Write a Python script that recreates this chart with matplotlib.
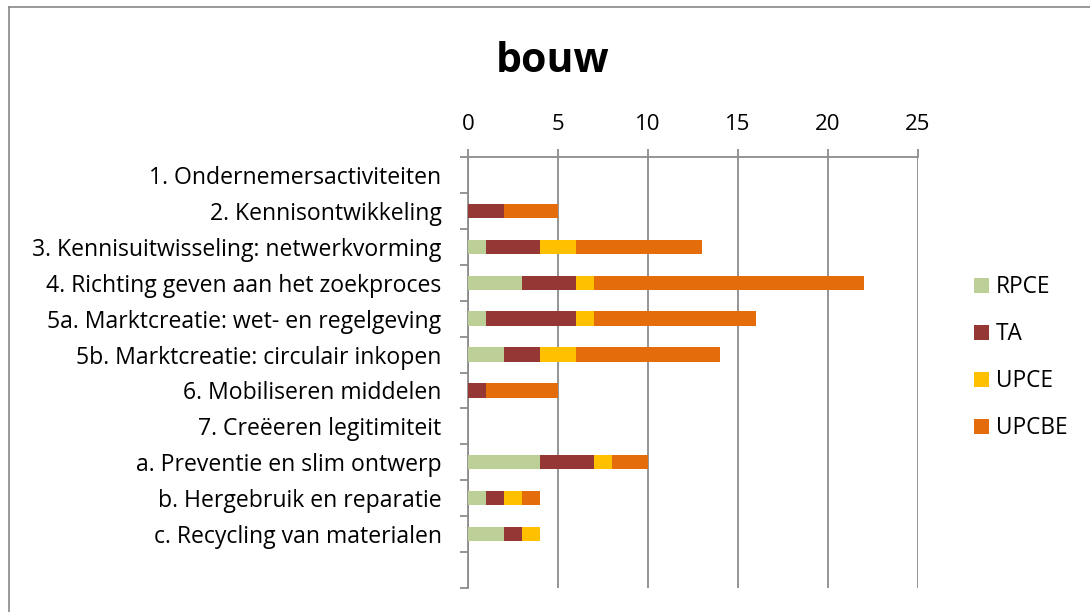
import matplotlib
matplotlib.use("Agg")
import matplotlib.pyplot as plt
import numpy as np
from matplotlib.patches import Rectangle
from matplotlib.lines import Line2D

title = "bouw"
categories = [
    "1. Ondernemersactiviteiten",
    "2. Kennisontwikkeling",
    "3. Kennisuitwisseling: netwerkvorming",
    "4. Richting geven aan het zoekproces",
    "5a. Marktcreatie: wet- en regelgeving",
    "5b. Marktcreatie: circulair inkopen",
    "6. Mobiliseren middelen",
    "7. Creëeren legitimiteit",
    "a. Preventie en slim ontwerp",
    "b. Hergebruik en reparatie",
    "c. Recycling van materialen",
    "",
]
series_names = ["RPCE", "TA", "UPCE", "UPCBE"]
RPCE = [0, 0, 1, 3, 1, 2, 0, 0, 4, 1, 2, 0]
TA = [0, 2, 3, 3, 5, 2, 1, 0, 3, 1, 1, 0]
UPCE = [0, 0, 2, 1, 1, 2, 0, 0, 1, 1, 1, 0]
UPCBE = [0, 3, 7, 15, 9, 8, 4, 0, 2, 1, 0, 0]
colors = ["#BBCF97", "#953735", "#FFC000", "#E46C0A"]
xticks = [0, 5, 10, 15, 20, 25]

plt.rcParams['font.family'] = ['Open Sans', 'DejaVu Sans']

fig = plt.figure(figsize=(10.9, 6.12), dpi=100)
W, H = 1090, 612
ax = fig.add_axes([468 / W, 1 - 588 / H, 450 / W, 431 / H])

y = np.arange(len(categories))
left = np.zeros(len(categories))
handles = []
for name, vals, c in zip(series_names, [RPCE, TA, UPCE, UPCBE], colors):
    v = np.array(vals, dtype=float)
    ax.barh(y, v, left=left, height=0.4, color=c, edgecolor="none", label=name, zorder=3)
    left += v
    handles.append(Rectangle((0, 0), 1, 1, facecolor=c, edgecolor="none"))

ax.set_xlim(0, 25)
ax.set_ylim(len(categories) - 0.5, -0.5)
grid_c = "#8C8C8C"
ax.set_xticks(xticks)
ax.xaxis.tick_top()
ax.tick_params(axis='x', which='major', direction='out', length=6, width=1.3,
               color=grid_c, labelsize=16, pad=10, labelcolor="black")
ax.grid(axis='x', color=grid_c, linewidth=1.3, zorder=0)

ax.set_yticks(y)
ax.set_yticklabels(categories, fontsize=16.6)
ax.set_yticks(np.arange(len(categories) + 1) - 0.5, minor=True)
ax.tick_params(axis='y', which='major', length=0, pad=19)
ax.tick_params(axis='y', which='minor', direction='out', length=6, width=1.3, color=grid_c)

for s in ['right', 'bottom']:
    ax.spines[s].set_visible(False)
for s in ['left', 'top']:
    ax.spines[s].set_color(grid_c)
    ax.spines[s].set_linewidth(1.3)

fig.text(553 / W, 1 - 61 / H, title, ha='center', va='center', fontsize=29.5, fontweight='bold')

leg = fig.legend(handles, series_names, loc='upper left', bbox_to_anchor=(965 / W, 1 - 266 / H),
                 frameon=False, fontsize=16.3, handlelength=0.65, handleheight=0.65,
                 handletextpad=0.3, labelspacing=1.02, borderaxespad=0)

# chart border
fig.add_artist(Line2D([9 / W, 9 / W], [0, 1 - 7 / H], transform=fig.transFigure, color="#888888", lw=1.2))
fig.add_artist(Line2D([9 / W, 1], [1 - 7 / H, 1 - 7 / H], transform=fig.transFigure, color="#888888", lw=1.2))

fig.savefig("out.png", dpi=100)
